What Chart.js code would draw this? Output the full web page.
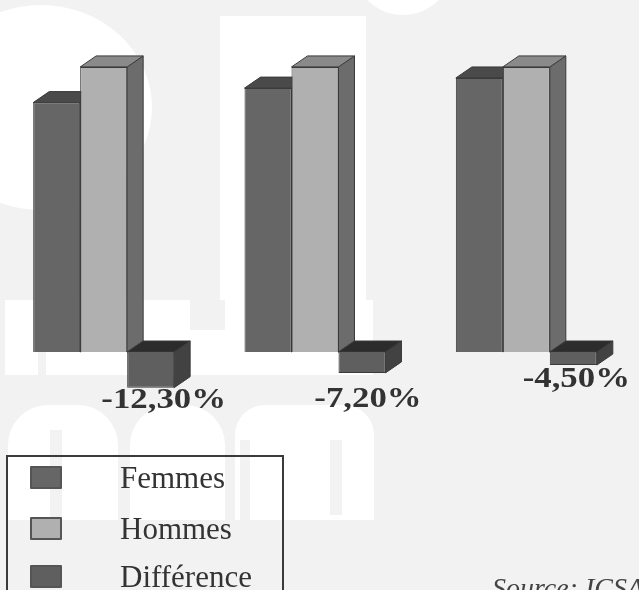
<!DOCTYPE html>
<html lang="fr">
<head>
<meta charset="utf-8">
<title>Femmes / Hommes</title>
<script src="https://cdn.jsdelivr.net/npm/chart.js@4/dist/chart.umd.min.js"></script>
<style>
  html, body { margin: 0; padding: 0; background: #f2f2f2; }
  #page { position: relative; width: 639px; height: 590px; overflow: hidden; font-family: "Liberation Serif", serif; color: #333; }
  #page canvas { position: absolute; left: -3px; top: 0; }
  .wm { position: absolute; background: #fff; }
  .grey { position: absolute; background: #f2f2f2; }
  #legend { position: absolute; left: 6px; top: 455px; width: 274px; height: 150px; border: 2px solid #3a3a3a; }
  .row { position: absolute; left: 0; width: 100%; height: 40px; line-height: 40px; font-size: 31px; }
  .row i { position: absolute; left: 22px; top: 8px; width: 28px; height: 19px; border: 2px solid #555; border-radius: 1px; }
  .row span { position: absolute; left: 112px; }
  #source { position: absolute; left: 492px; top: 572px; font-size: 28px; font-style: italic; white-space: nowrap; color: #444; }
</style>
</head>
<body>
<div id="page">
  <!-- pale backdrop shapes -->
  <div class="wm" style="left:-70px;top:5px;width:222px;height:205px;border-radius:50%"></div>
  <div class="wm" style="left:220px;top:16px;width:146px;height:290px"></div>
  <div class="wm" style="left:353px;top:-85px;width:100px;height:100px;border-radius:50%"></div>
  <div class="wm" style="left:5px;top:300px;width:368px;height:75px"></div>
  <div class="grey" style="left:38px;top:300px;width:8px;height:75px"></div>
  <div class="grey" style="left:190px;top:300px;width:35px;height:30px"></div>
  <div class="wm" style="left:8px;top:405px;width:110px;height:115px;border-radius:40px 40px 0 0"></div>
  <div class="wm" style="left:130px;top:405px;width:95px;height:115px;border-radius:40px 40px 0 0"></div>
  <div class="wm" style="left:235px;top:405px;width:139px;height:115px;border-radius:30px 30px 0 0"></div>
  <div class="grey" style="left:50px;top:430px;width:12px;height:90px"></div>
  <div class="grey" style="left:240px;top:440px;width:10px;height:80px"></div>
  <div class="grey" style="left:330px;top:440px;width:12px;height:75px"></div>

  <canvas id="barChart" width="642" height="590"></canvas>

  <div id="legend"></div>
  <div id="source">Source: ICSA</div>
</div>

<script>
const categories = ['A', 'B', 'C'];
const femmes = [86, 91, 94.5];
const hommes = [98.3, 98.3, 98.3];
const difference = [-12.3, -7.2, -4.5];

const seriesNames = ['Femmes', 'Hommes', 'Différence'];
const fronts = ['#666666', '#b0b0b0', '#5f5f5f'];
const tops = ['#4a4a4a', '#8a8a8a', '#2c2c2c'];
const sides = ['#555555', '#6c6c6c', '#424242'];
const swatches = ['#666666', '#b0b0b0', '#5f5f5f'];

// nudges for the value labels under the difference bars
const labelShiftX = [13, 6, 3];
const labelShiftY = [13, 27, 14];

const DEPTH_X = 16;
const DEPTH_Y = -11;
const LABEL_STRETCH = 1.2;

function poly(ctx, pts, fill) {
  ctx.beginPath();
  pts.forEach((p, i) => i ? ctx.lineTo(p[0], p[1]) : ctx.moveTo(p[0], p[1]));
  ctx.closePath();
  ctx.fillStyle = fill;
  ctx.fill();
  ctx.strokeStyle = '#3a3a3a';
  ctx.lineWidth = 1;
  ctx.stroke();
}

// side and top faces go under the fronts that the library draws
const depthFaces = {
  id: 'depthFaces',
  beforeDatasetsDraw(chart) {
    const ctx = chart.ctx;
    ctx.save();
    chart.data.datasets.forEach((ds, d) => {
      chart.getDatasetMeta(d).data.forEach(bar => {
        const p = bar.getProps(['x', 'y', 'base', 'width'], true);
        const l = p.x - p.width / 2, r = p.x + p.width / 2;
        const t = Math.min(p.y, p.base), b = Math.max(p.y, p.base);
        poly(ctx, [[r, t], [r + DEPTH_X, t + DEPTH_Y], [r + DEPTH_X, b + DEPTH_Y], [r, b]], sides[d]);
        poly(ctx, [[l, t], [l + DEPTH_X, t + DEPTH_Y], [r + DEPTH_X, t + DEPTH_Y], [r, t]], tops[d]);
      });
    });
    ctx.restore();
  },
  afterDatasetsDraw(chart) {
    const ctx = chart.ctx;
    const meta = chart.getDatasetMeta(2);
    difference.forEach((v, i) => {
      const bar = meta.data[i];
      const txt = v.toFixed(2).replace('.', ',') + '%';
      ctx.save();
      ctx.translate(bar.x + labelShiftX[i], bar.y + labelShiftY[i]);
      ctx.scale(LABEL_STRETCH, 1);
      ctx.font = 'bold 29px "Liberation Serif", serif';
      ctx.textAlign = 'center';
      ctx.textBaseline = 'middle';
      ctx.fillStyle = '#333333';
      ctx.fillText(txt, 0, 0);
      ctx.restore();
    });
  }
};

new Chart(document.getElementById('barChart'), {
  type: 'bar',
  data: {
    labels: categories,
    datasets: [femmes, hommes, difference].map((vals, i) => ({
      label: seriesNames[i],
      data: vals,
      backgroundColor: fronts[i],
      borderColor: '#3a3a3a',
      borderWidth: 1
    }))
  },
  options: {
    responsive: false,
    animation: false,
    categoryPercentage: 0.667,
    barPercentage: 1,
    layout: { padding: { left: 1, right: 7, top: 33, bottom: 151 } },
    scales: {
      x: { display: false },
      y: { display: false, min: -30, max: 110 }
    },
    plugins: { legend: { display: false }, tooltip: { enabled: false } }
  },
  plugins: [depthFaces]
});

// legend rows
const rowTops = [1, 52, 100];
const legendBox = document.getElementById('legend');
seriesNames.forEach((name, i) => {
  const row = document.createElement('div');
  row.className = 'row';
  row.style.top = rowTops[i] + 'px';
  row.innerHTML = `<i style="background:${swatches[i]}"></i><span>${name}</span>`;
  legendBox.appendChild(row);
});
</script>
</body>
</html>
